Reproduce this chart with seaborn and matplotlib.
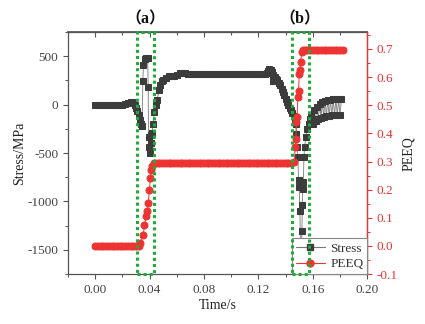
import numpy as np
import pandas as pd
import matplotlib
matplotlib.use("Agg")
import matplotlib.pyplot as plt
import matplotlib.transforms as mtransforms
from matplotlib.patches import Rectangle
from matplotlib.lines import Line2D
from matplotlib.ticker import MultipleLocator
import seaborn as sns

# ---------------- data ----------------
stress_time = [
    0.000, 0.002, 0.004, 0.006, 0.008, 0.010, 0.012, 0.014, 0.016, 0.018, 0.020,
    0.022, 0.024, 0.026, 0.027, 0.028, 0.029, 0.030, 0.031, 0.032, 0.033, 0.034, 0.0345,
    0.0350, 0.0355, 0.0365, 0.0375, 0.0385, 0.0390, 0.0392, 0.0396, 0.0400, 0.0405, 0.0408, 0.0412,
    0.0418, 0.0425, 0.0435, 0.0445, 0.0455, 0.047, 0.048, 0.049, 0.050, 0.052, 0.054, 0.056,
    0.058, 0.060, 0.062, 0.064, 0.066,
    0.068, 0.070, 0.072, 0.074, 0.076, 0.078, 0.080, 0.082, 0.084, 0.086, 0.088, 0.090,
    0.092, 0.094, 0.096, 0.098, 0.100, 0.102, 0.104, 0.106, 0.108, 0.110, 0.112, 0.114,
    0.116, 0.118, 0.120, 0.122, 0.124,
    0.125, 0.126, 0.127, 0.128, 0.129, 0.130, 0.1305, 0.131, 0.132, 0.133, 0.134, 0.135,
    0.136, 0.137, 0.138, 0.139, 0.140, 0.141, 0.142, 0.143, 0.144, 0.145, 0.146, 0.147, 0.1475,
    0.148, 0.1485, 0.149, 0.1495, 0.150, 0.1505, 0.151, 0.1515, 0.152, 0.1523, 0.1526,
    0.153, 0.1535, 0.154, 0.155, 0.156, 0.157, 0.158,
    0.159, 0.160, 0.161, 0.162, 0.163, 0.164, 0.165, 0.166, 0.167, 0.168, 0.169, 0.170,
    0.171, 0.172, 0.173, 0.174, 0.175, 0.176, 0.177, 0.178, 0.179, 0.180, 0.181,
]
stress_mpa = [
    0, 0, 0, 0, 0, 0, 0, 0, 0, 0, 0,
    2, 15, 30, 32, 22, 0, -30, -70, -110, -160, -200, -220,
    240, 410, 470, 480, 486, 180, -330, -435, -500, -480, -400, -310,
    -290, -200, -80, 0, 50, 150, 200, 240, 260, 280, 295, 300,
    300, 305, 325, 330, 325,
    322, 320, 319, 318, 318, 317, 317, 316, 316, 315, 315, 315,
    314, 314, 314, 314, 314, 313, 313, 313, 313, 313, 313, 314,
    314, 315, 316, 317, 318,
    320, 330, 350, 365, 360, 340, 240, 310, 290, 270, 250, 225,
    200, 165, 130, 95, 60, 30, 0, -30, -60, -90, -120, -160, -200,
    -300, -435, -540, -775, -850, -1100, -1470, -1575, -1300, -1035, -870,
    -800, -540, -435, -330, -250, -200, -150,
    -110, -200, -60, -170, -20, -150, 10, -135, 25, -125, 35, -120,
    45, -115, 50, -110, 55, -105, 55, -105, 55, -105, 55,
]

peeq_time = [
    0.000, 0.002, 0.004, 0.006, 0.008, 0.010, 0.012, 0.014, 0.016, 0.018, 0.020,
    0.022, 0.024, 0.026, 0.028, 0.030, 0.032,
    0.0332, 0.0354, 0.0362, 0.0376, 0.0384, 0.0390, 0.0399, 0.0406, 0.0413, 0.0420, 0.0430,
    0.044, 0.046, 0.048, 0.050, 0.052, 0.054, 0.056, 0.058, 0.060, 0.062, 0.064, 0.066,
    0.068, 0.070, 0.072, 0.074, 0.076, 0.078, 0.080, 0.082, 0.084, 0.086, 0.088, 0.090,
    0.092, 0.094, 0.096, 0.098, 0.100, 0.102, 0.104, 0.106, 0.108, 0.110, 0.112, 0.114,
    0.116, 0.118, 0.120, 0.122, 0.124, 0.126, 0.128, 0.130, 0.132, 0.134, 0.136, 0.138,
    0.140, 0.142, 0.144,
    0.1465, 0.147, 0.1475, 0.148, 0.1485, 0.149, 0.1495, 0.150, 0.1505, 0.151, 0.152,
    0.153, 0.154, 0.156, 0.158, 0.160, 0.162, 0.164, 0.166, 0.168, 0.170, 0.172, 0.174,
    0.176, 0.178, 0.180, 0.182,
]
peeq_value = [
    0.0, 0.0, 0.0, 0.0, 0.0, 0.0, 0.0, 0.0, 0.0, 0.0, 0.0,
    0.0, 0.0, 0.0, 0.0, 0.0, 0.0,
    0.011, 0.040, 0.075, 0.107, 0.125, 0.154, 0.200, 0.243, 0.270, 0.285, 0.295,
    0.295, 0.295, 0.295, 0.295, 0.295, 0.295, 0.295, 0.295, 0.295, 0.295, 0.295, 0.295,
    0.295, 0.295, 0.295, 0.295, 0.295, 0.295, 0.295, 0.295, 0.295, 0.295, 0.295, 0.295,
    0.295, 0.295, 0.295, 0.295, 0.295, 0.295, 0.295, 0.295, 0.295, 0.295, 0.295, 0.295,
    0.295, 0.295, 0.295, 0.295, 0.295, 0.295, 0.295, 0.295, 0.295, 0.295, 0.295, 0.295,
    0.295, 0.295, 0.295,
    0.300, 0.350, 0.380, 0.440, 0.460, 0.530, 0.550, 0.610, 0.625, 0.655, 0.690,
    0.695, 0.695, 0.695, 0.695, 0.695, 0.695, 0.695, 0.695, 0.695, 0.695, 0.695, 0.695,
    0.695, 0.695, 0.695, 0.695,
]

x_ticks = [0.00, 0.04, 0.08, 0.12, 0.16, 0.20]
x_tick_labels = ["0.00", "0.04", "0.08", "0.12", "0.16", "0.20"]
stress_ticks = [-1500, -1000, -500, 0, 500]
stress_tick_labels = ["-1500", "-1000", "-500", "0", "500"]
peeq_ticks = [-0.1, 0.0, 0.1, 0.2, 0.3, 0.4, 0.5, 0.6, 0.7]
peeq_tick_labels = ["-0.1", "0.0", "0.1", "0.2", "0.3", "0.4", "0.5", "0.6", "0.7"]
zones = [("（a）", 0.031, 0.0435), ("（b）", 0.1446, 0.157)]
series_names = ["Stress", "PEEQ"]

# ---------------- style ----------------
sns.set_theme(style="ticks")
plt.rcParams["font.family"] = ["Liberation Serif", "Noto Sans CJK SC", "DejaVu Sans"]
plt.rcParams["axes.unicode_minus"] = False

RED = "#ee3333"
DARK = "#3c3c3c"
AXC = "#555555"
MS_S = 4.9
MS_P = 5.0

fig = plt.figure(figsize=(4.25, 3.24), dpi=100)
ax = fig.add_axes([0.160, 0.154, 0.704, 0.747])
ax2 = ax.twinx()

df_s = pd.DataFrame({"Time": stress_time, "Stress": stress_mpa})
df_p = pd.DataFrame({"Time": peeq_time, "PEEQ": peeq_value})

sns.lineplot(data=df_s, x="Time", y="Stress", ax=ax, sort=False, estimator=None,
             color="#8a8a8a", linewidth=0.7, marker="s", markersize=MS_S,
             markerfacecolor=DARK, markeredgecolor=DARK, legend=False)
sns.lineplot(data=df_p, x="Time", y="PEEQ", ax=ax2, sort=False, estimator=None,
             color=RED, linewidth=0.7, marker="o", markersize=MS_P,
             markerfacecolor=RED, markeredgecolor=RED, legend=False)

# axes limits / ticks
ax.set_xlim(-0.02, 0.20)
ax.set_ylim(-1750, 750)
ax2.set_ylim(-0.1, 0.76)

ax.set_xticks(x_ticks)
ax.set_xticklabels(x_tick_labels)
ax.set_yticks(stress_ticks)
ax.set_yticklabels(stress_tick_labels)
ax2.set_yticks(peeq_ticks)
ax2.set_yticklabels(peeq_tick_labels)
ax.xaxis.set_minor_locator(MultipleLocator(0.02))
ax.yaxis.set_minor_locator(MultipleLocator(250))
ax2.yaxis.set_minor_locator(MultipleLocator(0.05))

ax.set_xlabel("Time/s", fontsize=10, color="#222222", labelpad=2)
ax.set_ylabel("Stress/MPa", fontsize=10, color="#222222", labelpad=1)
ax2.set_ylabel("PEEQ", fontsize=10, color="#222222", labelpad=3)

ax.tick_params(axis="both", which="major", labelsize=9.5, colors=AXC, labelcolor="#444444",
               length=3.5, width=0.8, direction="out")
ax.tick_params(axis="both", which="minor", length=2, width=0.7, colors=AXC, direction="out")
ax.tick_params(axis="x", which="both", top=False)
ax2.tick_params(axis="y", which="major", labelsize=9.5, colors=RED, labelcolor=RED,
                length=3.5, width=0.8, direction="out")
ax2.tick_params(axis="y", which="minor", colors=RED, length=2, width=0.7, direction="out")

for name, sp in ax.spines.items():
    sp.set_color(AXC)
    sp.set_linewidth(0.9)
for name, sp in ax2.spines.items():
    sp.set_visible(False)
ax2.spines["right"].set_visible(True)
ax2.spines["right"].set_color(RED)
ax2.spines["right"].set_linewidth(0.9)

# top axis ticks point inward
secx = ax.secondary_xaxis("top")
secx.set_xticks(x_ticks)
secx.xaxis.set_minor_locator(MultipleLocator(0.02))
secx.tick_params(axis="x", which="both", direction="in", labeltop=False, colors=AXC,
                 length=3.5, width=0.8)
secx.tick_params(axis="x", which="minor", length=2)
secx.spines["top"].set_color(AXC)

# green dotted highlight boxes
trans = mtransforms.blended_transform_factory(ax.transData, ax.transAxes)
for label, t0, t1 in zones:
    rect = Rectangle((t0, 0.0), t1 - t0, 1.0, transform=trans, fill=False,
                     edgecolor="#1faa3a", linestyle=(0, (1, 1)), linewidth=2.2,
                     zorder=10, clip_on=False)
    ax2.add_patch(rect)
    ax2.text((t0 + t1) / 2, 1.018, label, transform=trans, ha="center", va="bottom",
             fontsize=11.5, fontweight="bold", color="#111111",
             family=["Liberation Serif", "Noto Sans CJK SC"])

# legend
handles = [
    Line2D([], [], color="#777777", linewidth=0.8, marker="s", markersize=MS_S,
           markerfacecolor=DARK, markeredgecolor=DARK),
    Line2D([], [], color=RED, linewidth=0.8, marker="o", markersize=MS_P,
           markerfacecolor=RED, markeredgecolor=RED),
]
leg = ax2.legend(handles, series_names, loc="lower right", frameon=True, fancybox=False,
                 edgecolor="#888888", framealpha=1.0, borderaxespad=0.0, fontsize=9.5,
                 handlelength=2.2, handletextpad=0.4, borderpad=0.3, labelspacing=0.25)
leg.get_frame().set_linewidth(0.8)
for txt in leg.get_texts():
    txt.set_color("#333333")

fig.savefig("out.png", dpi=100)
